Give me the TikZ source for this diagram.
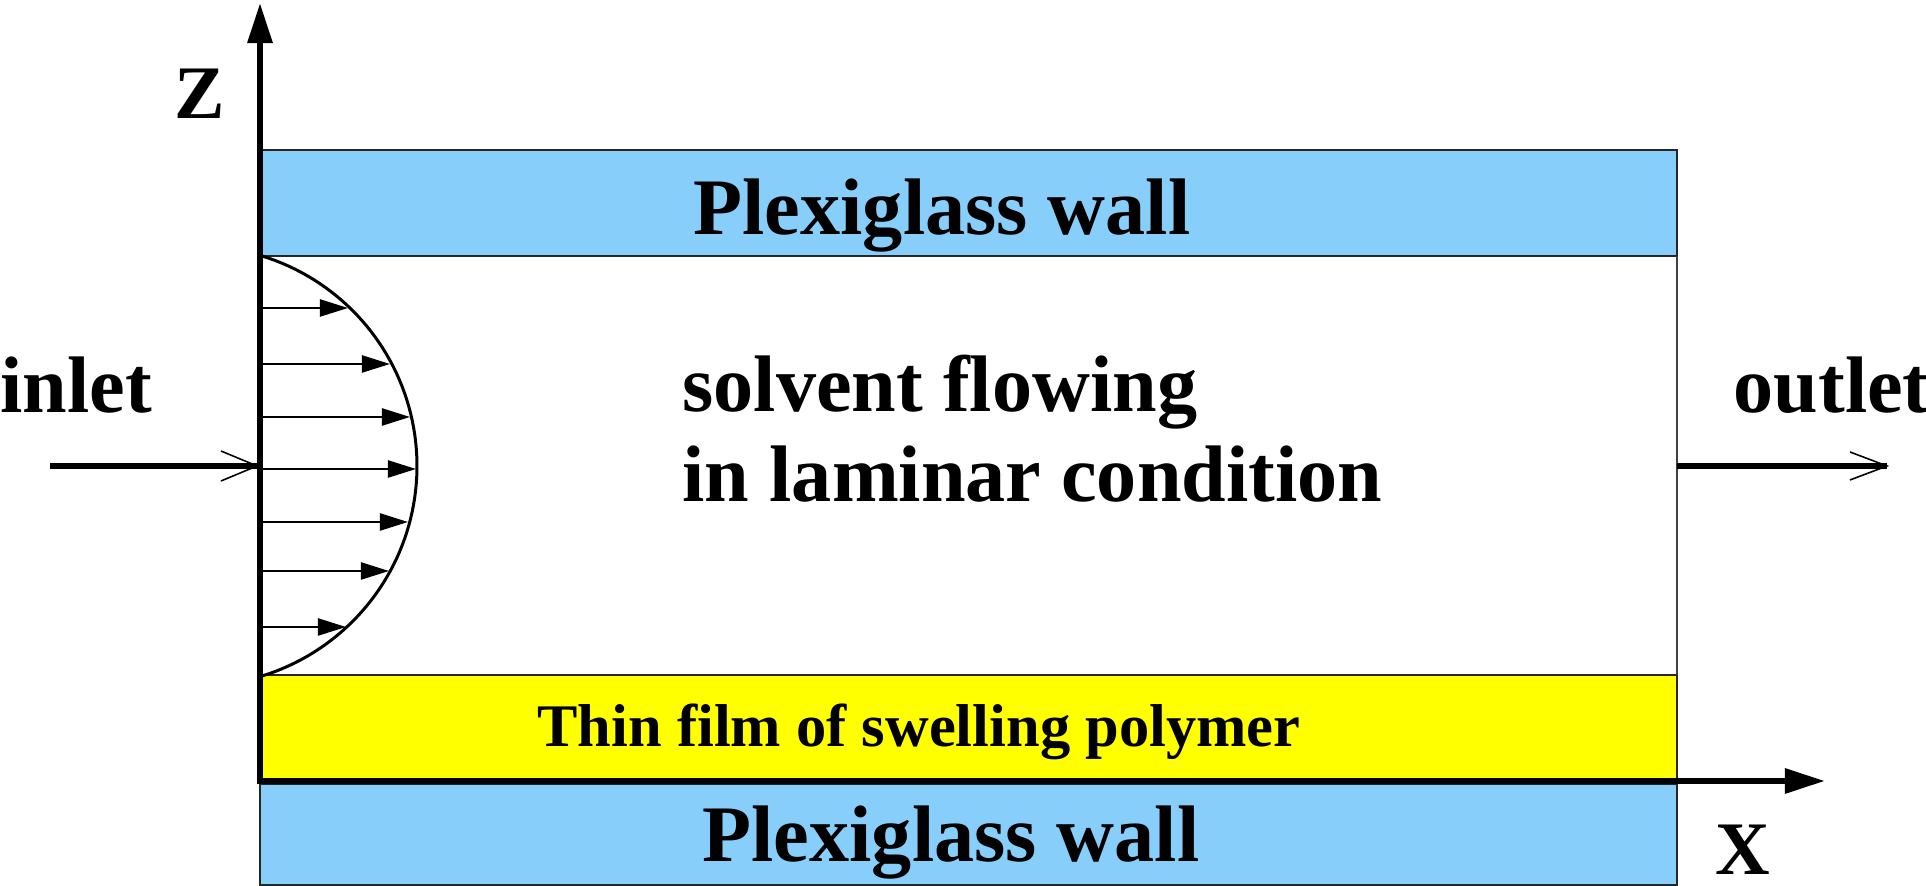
\documentclass[tikz,border=0pt]{standalone}
\usepackage{fontspec}
\setmainfont{Liberation Serif}
\usetikzlibrary{arrows.meta}
\definecolor{wallblue}{RGB}{135,206,250}
\definecolor{filmyellow}{RGB}{255,255,0}
\begin{document}
\begin{tikzpicture}[x=0.01cm,y=-0.01cm,
  lbl/.style={font=\fontsize{22.8}{27}\selectfont\bfseries, inner sep=0pt},
  axislbl/.style={font=\fontsize{21.5}{26}\selectfont\bfseries, inner sep=0pt},
  smalllbl/.style={font=\fontsize{17.2}{21}\selectfont\bfseries, inner sep=0pt},
  wall/.style={fill=wallblue, draw=black!85, line width=0.45pt},
  filmbox/.style={fill=filmyellow, draw=black!85, line width=0.45pt},
  axisarrow/.style={line width=1.7pt, -{Triangle[length=0.4cm,width=0.24cm]}},
  flow/.style={line width=1.7pt},
  barb/.style={line width=0.45pt},
  prof/.style={line width=0.65pt, -{Triangle[length=0.28cm,width=0.17cm]}},
]
\useasboundingbox (0,0) rectangle (1926,886);

% layers
\filldraw[wall] (260,150) rectangle (1677,256);
\filldraw[filmbox] (260,675) rectangle (1677,781);
\filldraw[wall] (260,784) rectangle (1677,885);
\draw[gray!50!black, line width=0.55pt] (1677,256) -- (1677,675);

% velocity profile
\draw[line width=0.85pt] plot[domain=-72.85:72.85, samples=80] ({197.2+219.8*cos(\x)},{466+219.8*sin(\x)});
\foreach \y/\t in {308/348, 364/390, 417/410, 469/416, 522/408, 571/389, 627/346}
  \draw[prof] (263,\y) -- (\t,\y);

% axes
\coordinate (O) at (260,784);
\coordinate (ztip) at (260,3);
\coordinate (xstart) at (257,781);
\coordinate (xtip) at (1825,781);
\draw[axisarrow] (O) -- (ztip);
\draw[axisarrow] (xstart) -- (xtip);

% inlet / outlet
\coordinate (inS) at (50,466);
\coordinate (inE) at (257,466);
\draw[flow] (inS) -- (inE);
\draw[barb] (inE) +(-36,-15) -- (inE) -- +(-36,15);
\coordinate (outS) at (1677,466);
\coordinate (outE) at (1887,466);
\draw[flow] (outS) -- (outE);
\draw[barb] (outE) +(-37,-14) -- (outE) -- +(-37,14);

% labels
\node[lbl, anchor=base] (topwall) at (942,235) {Plexiglass wall};
\node[lbl, anchor=base west] (solv) at (682,412) {solvent flowing};
\node[lbl, anchor=base west] (lam) at (682,502) {in laminar condition};
\node[smalllbl, anchor=base] (filmlbl) at (919,747) {Thin film of swelling polymer};
\node[lbl, anchor=base] (botwall) at (951,862) {Plexiglass wall};
\node[lbl, anchor=base west] (inlet) at (0,413) {inlet};
\node[lbl, anchor=base west] (outlet) at (1733,413) {outlet};
\node[axislbl, anchor=base] (zlab) at (200,119) {Z};
\node[axislbl, anchor=base] (xlab) at (1743,875) {X};
\end{tikzpicture}
\end{document}
